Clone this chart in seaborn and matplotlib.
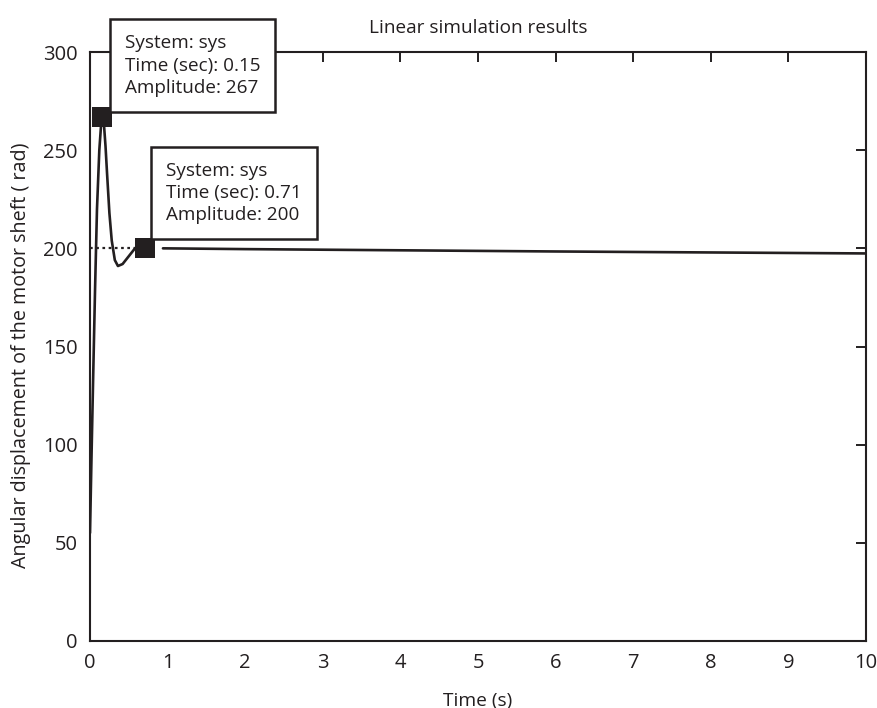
import matplotlib
matplotlib.use("Agg")
import matplotlib.pyplot as plt
import numpy as np
import pandas as pd
import seaborn as sns

# Response of the motor shaft: transient part and the settled tail
transient_t = [0.00, 0.02, 0.04, 0.065, 0.09, 0.12, 0.15, 0.18, 0.20, 0.22, 0.25, 0.28, 0.32, 0.36, 0.42, 0.50, 0.58, 0.62]
transient_y = [55, 95, 133, 179, 220, 250, 267, 263, 252, 238, 218, 204, 194, 191, 192, 196, 200, 201]
tail_t = [0.94, 2.0, 4.0, 6.0, 8.0, 10.0]
tail_y = [200.0, 199.6, 199.0, 198.4, 197.9, 197.4]

# Data tips
tip_t = [0.15, 0.71]
tip_y = [267, 200]
tip_system = ["sys", "sys"]

# Reference level of the settled value
ref_t = [0.0, 0.71]
ref_y = [200, 200]

x_ticks = list(range(0, 11))
y_ticks = [0, 50, 100, 150, 200, 250, 300]

title = "Linear simulation results"
x_label = "Time (s)"
y_label = "Angular displacement of the motor sheft ( rad)"

ink = "#231f20"

sns.set_theme(style="white")
plt.rcParams["font.family"] = ["Open Sans", "DejaVu Sans"]
plt.rcParams["text.color"] = ink
plt.rcParams["axes.labelcolor"] = ink
plt.rcParams["xtick.color"] = ink
plt.rcParams["ytick.color"] = ink

response = pd.concat([
    pd.DataFrame({"t": transient_t, "y": transient_y, "seg": "transient"}),
    pd.DataFrame({"t": tail_t, "y": tail_y, "seg": "tail"}),
], ignore_index=True)
tips = pd.DataFrame({"t": tip_t, "y": tip_y})
ref = pd.DataFrame({"t": ref_t, "y": ref_y})

fig = plt.figure(figsize=(8.78, 7.08), dpi=100)
ax = fig.add_axes([90 / 878, 1 - 641 / 708, (866 - 90) / 878, (641 - 52) / 708])

sns.lineplot(data=ref, x="t", y="y", ax=ax, color=ink, linestyle=(0, (1.2, 1.6)),
             linewidth=1.6, estimator=None)
sns.lineplot(data=response, x="t", y="y", units="seg", estimator=None, sort=False,
             ax=ax, color=ink, linewidth=1.9)
sns.scatterplot(data=tips, x="t", y="y", ax=ax, marker="s", s=190, color=ink,
                edgecolor=ink, linewidth=0, zorder=5)

offsets = [(23, 20), (21, 24)]
for (t, v, sysname), (dx, dy) in zip(zip(tip_t, tip_y, tip_system), offsets):
    txt = f"System: {sysname}\nTime (sec): {t:g}\nAmplitude: {v:g}"
    ax.annotate(txt, xy=(t, v), xytext=(dx, dy), textcoords="offset pixels",
                ha="left", va="bottom", fontsize=13.6, linespacing=1.3,
                bbox=dict(boxstyle="square,pad=0.8", fc="white", ec=ink, lw=1.8),
                zorder=6, annotation_clip=False)

ax.set_xlim(0, 10)
ax.set_ylim(0, 300)
ax.set_xticks(x_ticks)
ax.set_yticks(y_ticks)
ax.tick_params(axis="both", direction="in", length=7, width=1.4, labelsize=14.5,
               top=True, right=True, pad=9)
for s in ax.spines.values():
    s.set_color(ink)
    s.set_linewidth(1.5)

ax.set_title(title, fontsize=13.7, pad=14, color=ink)
ax.set_xlabel(x_label, fontsize=13.8, labelpad=13)
ax.set_ylabel(y_label, fontsize=14.2)
ax.yaxis.set_label_coords(-0.0755, 0.4856)

fig.savefig("out.png", dpi=100)
